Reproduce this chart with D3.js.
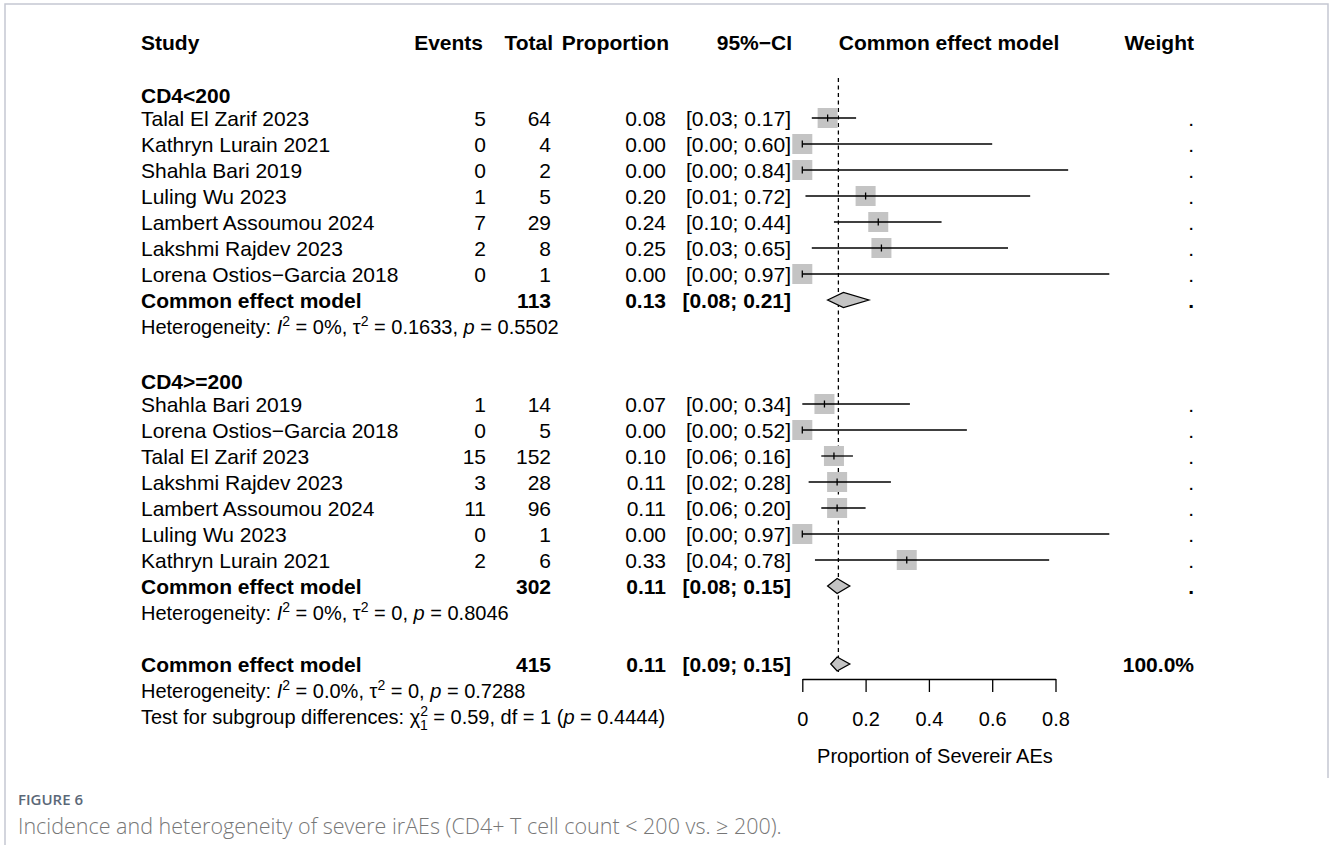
<!DOCTYPE html>
<html>
<head>
<meta charset="utf-8">
<script src="https://cdn.jsdelivr.net/npm/d3@7"></script>
<style>
  body { margin: 0; background: #fff; }
  svg text { font-family: "Liberation Sans", Arial, Helvetica, sans-serif; }
</style>
</head>
<body>
<svg id="chart" width="1330" height="845"></svg>
<script>
// ---- data ----
const groupLabels = ["CD4<200", "CD4>=200"];
const studyNames = [
  "Talal El Zarif 2023", "Kathryn Lurain 2021", "Shahla Bari 2019", "Luling Wu 2023",
  "Lambert Assoumou 2024", "Lakshmi Rajdev 2023", "Lorena Ostios\u2212Garcia 2018",
  "Shahla Bari 2019", "Lorena Ostios\u2212Garcia 2018", "Talal El Zarif 2023", "Lakshmi Rajdev 2023",
  "Lambert Assoumou 2024", "Luling Wu 2023", "Kathryn Lurain 2021"
];
const studyGroup = [0,0,0,0,0,0,0, 1,1,1,1,1,1,1];
const events = [5, 0, 0, 1, 7, 2, 0, 1, 0, 15, 3, 11, 0, 2];
const totals = [64, 4, 2, 5, 29, 8, 1, 14, 5, 152, 28, 96, 1, 6];
const proportion = [0.08, 0.00, 0.00, 0.20, 0.24, 0.25, 0.00, 0.07, 0.00, 0.10, 0.11, 0.11, 0.00, 0.33];
const ciLower = [0.03, 0.00, 0.00, 0.01, 0.10, 0.03, 0.00, 0.00, 0.00, 0.06, 0.02, 0.06, 0.00, 0.04];
const ciUpper = [0.17, 0.60, 0.84, 0.72, 0.44, 0.65, 0.97, 0.34, 0.52, 0.16, 0.28, 0.20, 0.97, 0.78];

const pooledLabel = "Common effect model";
const pooledTotals = [113, 302, 415];
const pooledProp = [0.13, 0.11, 0.11];
const pooledLower = [0.08, 0.08, 0.09];
const pooledUpper = [0.21, 0.15, 0.15];
const pooledWeight = [".", ".", "100.0%"];
const referenceValue = 0.114;

const headers = ["Study", "Events", "Total", "Proportion", "95%\u2212CI", "Common effect model", "Weight"];
const axisTicks = [0, 0.2, 0.4, 0.6, 0.8];
const axisTitle = "Proportion of Severeir AEs";
const captionLabel = "FIGURE 6";
const captionText = "Incidence and heterogeneity of severe irAEs (CD4+ T cell count < 200 vs. \u2265 200).";

// ---- layout ----
const svg = d3.select("#chart");
const FS = 21, FS_SMALL = 20;
const x = d3.scaleLinear().domain([0, 0.8]).range([802.3, 1055.5]);
const rowY = i => 118 + 26 * i;
const base = 7.5;
const col = { study: 141, events: 486, total: 551, prop: 666, ci: 791, weight: 1194 };

// frame
svg.append("path").attr("d", "M5,845 V4 H1328 V778")
  .attr("fill", "none").attr("stroke", "#c5c8d2").attr("stroke-width", 1.5);

function txt(xp, yc, s, opts = {}) {
  return svg.append("text").attr("x", xp).attr("y", yc + base)
    .attr("text-anchor", opts.anchor || "start")
    .attr("font-size", opts.size || FS)
    .attr("font-weight", opts.bold ? "bold" : "normal")
    .attr("fill", "#000").text(s);
}

// headers
const hy = 42;
txt(col.study, hy, headers[0], { bold: true });
txt(483, hy, headers[1], { bold: true, anchor: "end" });
txt(553, hy, headers[2], { bold: true, anchor: "end" });
txt(669, hy, headers[3], { bold: true, anchor: "end" });
txt(792, hy, headers[4], { bold: true, anchor: "end" });
txt(949, hy, headers[5], { bold: true, anchor: "middle" });
txt(1194, hy, headers[6], { bold: true, anchor: "end" });

// reference dashed line
svg.append("line").attr("x1", x(referenceValue)).attr("x2", x(referenceValue))
  .attr("y1", 78).attr("y2", 672)
  .attr("stroke", "#000").attr("stroke-width", 1.3).attr("stroke-dasharray", "4,3.5");

const f2 = d3.format(".2f");
const groupStartRow = [0, 11];

groupLabels.forEach((g, gi) => {
  const r0 = groupStartRow[gi];
  txt(col.study, rowY(r0 - 1) + 3, g, { bold: true });
  const idx = d3.range(studyNames.length).filter(i => studyGroup[i] === gi);
  idx.forEach((si, k) => {
    const yc = rowY(r0 + k);
    txt(col.study, yc, studyNames[si]);
    txt(col.events, yc, events[si], { anchor: "end" });
    txt(col.total, yc, totals[si], { anchor: "end" });
    txt(col.prop, yc, f2(proportion[si]), { anchor: "end" });
    txt(col.ci, yc, `[${f2(ciLower[si])}; ${f2(ciUpper[si])}]`, { anchor: "end" });
    txt(col.weight, yc, ".", { anchor: "end" });
    // box
    svg.append("rect").attr("x", x(proportion[si]) - 10).attr("y", yc - 10)
      .attr("width", 20).attr("height", 20).attr("fill", "#c4c4c4");
    svg.append("line").attr("x1", x(ciLower[si])).attr("x2", x(ciUpper[si]))
      .attr("y1", yc).attr("y2", yc).attr("stroke", "#000").attr("stroke-width", 1.3);
    svg.append("line").attr("x1", x(proportion[si])).attr("x2", x(proportion[si]))
      .attr("y1", yc - 3.5).attr("y2", yc + 3.5).attr("stroke", "#000").attr("stroke-width", 1.3);
  });
});

// pooled rows
const pooledRows = [7, 18, 21];
pooledRows.forEach((r, pi) => {
  const yc = rowY(r);
  txt(col.study, yc, pooledLabel, { bold: true });
  txt(col.total, yc, pooledTotals[pi], { bold: true, anchor: "end" });
  txt(col.prop, yc, f2(pooledProp[pi]), { bold: true, anchor: "end" });
  txt(col.ci, yc, `[${f2(pooledLower[pi])}; ${f2(pooledUpper[pi])}]`, { bold: true, anchor: "end" });
  txt(col.weight, yc, pooledWeight[pi], { bold: true, anchor: "end" });
  const h = pi === 2 ? 7 : 7.5;
  const pts = [[x(pooledLower[pi]), yc], [x(pooledProp[pi]), yc - h], [x(pooledUpper[pi]), yc], [x(pooledProp[pi]), yc + h]];
  svg.append("path").attr("d", "M" + pts.map(p => p.join(",")).join("L") + "Z")
    .attr("fill", "#c4c4c4").attr("stroke", "#000").attr("stroke-width", 1.3);
});

// heterogeneity lines
function hetLine(yc, parts) {
  const t = svg.append("text").attr("x", col.study).attr("y", yc + base)
    .attr("font-size", FS_SMALL).attr("fill", "#000");
  parts.forEach(p => {
    const ts = t.append("tspan").text(p.t);
    if (p.i) ts.attr("font-style", "italic");
    if (p.sup) ts.attr("font-size", FS_SMALL * 0.7).attr("dy", -8);
    if (p.sub) ts.attr("font-size", FS_SMALL * 0.7).attr("dy", 14).attr("dx", -8);
    if (p.back) ts.attr("dy", p.back);
  });
}
hetLine(rowY(8), [
  { t: "Heterogeneity: " }, { t: "I", i: 1 }, { t: "2", sup: 1 },
  { t: " = 0%, \u03c4", back: 8 }, { t: "2", sup: 1 },
  { t: " = 0.1633, ", back: 8 }, { t: "p", i: 1 }, { t: " = 0.5502" }
]);
hetLine(rowY(19), [
  { t: "Heterogeneity: " }, { t: "I", i: 1 }, { t: "2", sup: 1 },
  { t: " = 0%, \u03c4", back: 8 }, { t: "2", sup: 1 },
  { t: " = 0, ", back: 8 }, { t: "p", i: 1 }, { t: " = 0.8046" }
]);
hetLine(rowY(22), [
  { t: "Heterogeneity: " }, { t: "I", i: 1 }, { t: "2", sup: 1 },
  { t: " = 0.0%, \u03c4", back: 8 }, { t: "2", sup: 1 },
  { t: " = 0, ", back: 8 }, { t: "p", i: 1 }, { t: " = 0.7288" }
]);
hetLine(rowY(23), [
  { t: "Test for subgroup differences: \u03c7" }, { t: "2", sup: 1 }, { t: "1", sub: 1 },
  { t: " = 0.59, df = 1 (", back: -6 }, { t: "p", i: 1 }, { t: " = 0.4444)" }
]);

// axis
const axisY = 679;
const ax = svg.append("g").attr("transform", `translate(0,${axisY})`)
  .call(d3.axisBottom(x).tickValues(axisTicks).tickSize(13).tickSizeOuter(0).tickPadding(20)
    .tickFormat(d => d === 0 ? "0" : d3.format(".1f")(d)));
ax.selectAll("path.domain").attr("stroke", "#000").attr("stroke-width", 1.3);
ax.selectAll(".tick line").attr("stroke", "#000").attr("stroke-width", 1.3);
ax.selectAll(".tick text").attr("font-size", 20).attr("fill", "#000")
  .attr("font-family", "Liberation Sans, Arial, sans-serif");
svg.append("text").attr("x", x(0.4) + 6).attr("y", 763).attr("text-anchor", "middle")
  .attr("font-size", 20).attr("fill", "#000").text(axisTitle);

// caption
svg.append("text").attr("x", 18).attr("y", 805).attr("font-size", 15).attr("font-weight", 600)
  .attr("fill", "#5b6878").style("font-family", "'Open Sans', sans-serif").text(captionLabel);
svg.append("text").attr("x", 18).attr("y", 834).attr("font-size", 21.5).attr("font-weight", 300)
  .attr("fill", "#777").style("font-family", "'Open Sans', sans-serif").text(captionText);
</script>
</body>
</html>
